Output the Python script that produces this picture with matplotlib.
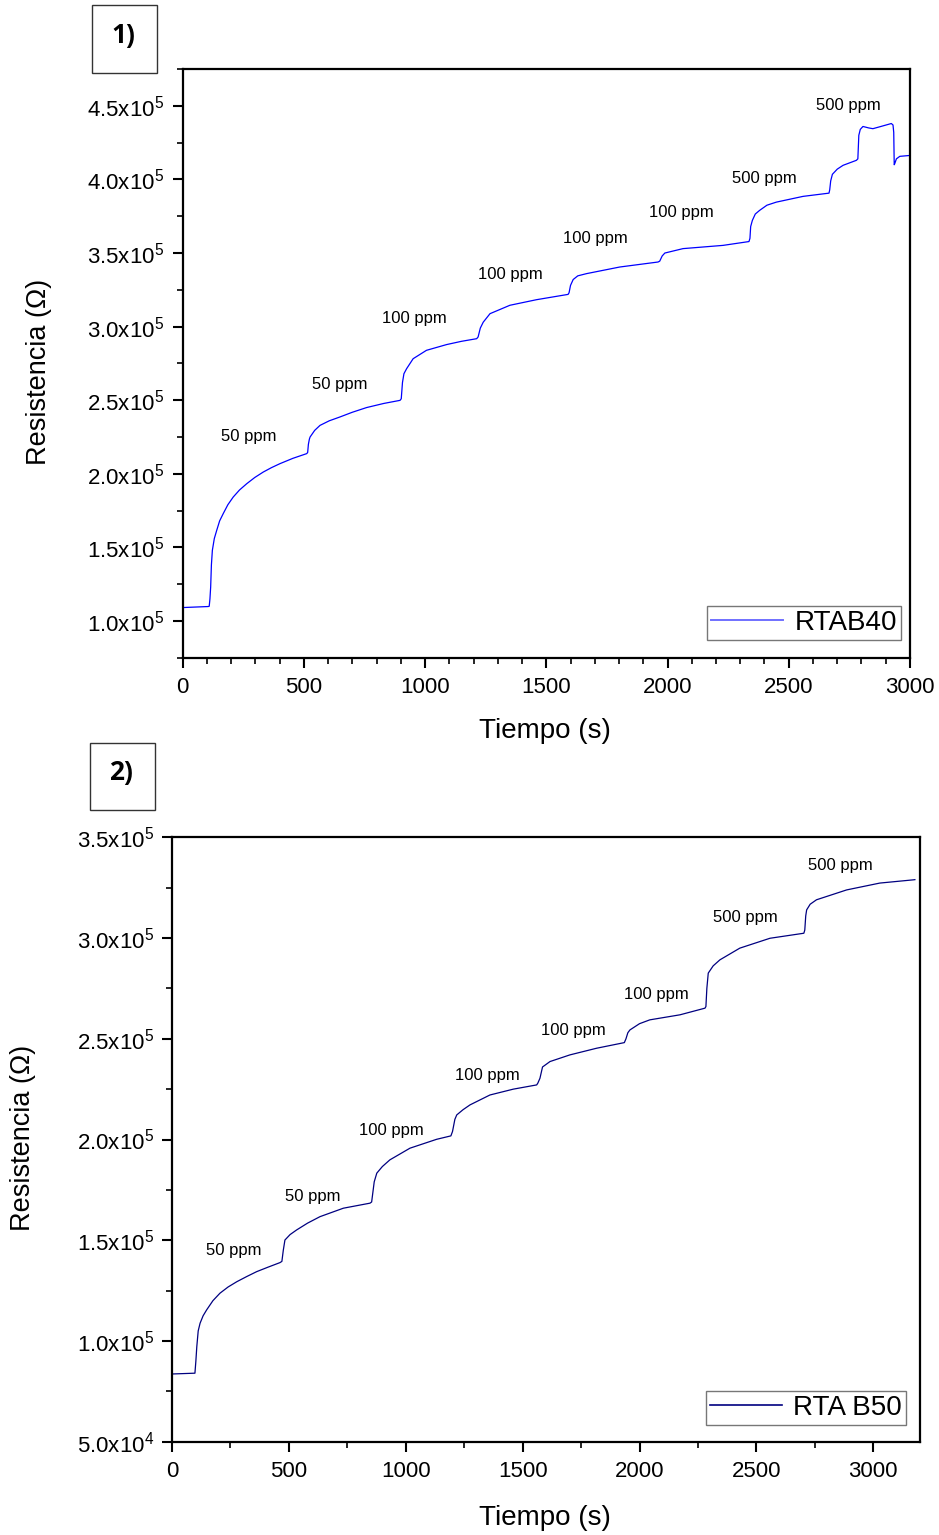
import matplotlib
matplotlib.use("Agg")
import matplotlib.pyplot as plt
from matplotlib.patches import Rectangle
from matplotlib.ticker import FixedLocator, MultipleLocator, FuncFormatter
import numpy as np

plt.rcParams['font.family'] = ['Liberation Sans', 'DejaVu Sans']
plt.rcParams['mathtext.fontset'] = 'custom'
plt.rcParams['mathtext.rm'] = 'Liberation Sans'
plt.rcParams['mathtext.it'] = 'Liberation Sans'

# ---- Sample RTAB40: time (s) and resistance (x1e5 ohm) ----
t_rtab40 = [0, 106, 110, 113, 116, 119, 123, 131, 141, 153, 168, 187, 209, 235, 265, 298, 333, 367, 402, 455, 512,
            516, 519, 523, 526, 545, 567, 605, 649, 700, 759, 830, 897,
            902, 907, 913, 924, 951, 1006, 1089, 1150, 1213,
            1219, 1228, 1240, 1268, 1350, 1460, 1590,
            1594, 1600, 1611, 1630, 1666, 1803, 1961,
            1968, 1978, 1989, 2064, 2229, 2336,
            2340, 2343, 2350, 2362, 2380, 2410, 2449, 2559, 2666,
            2669, 2673, 2680, 2700, 2724, 2779,
            2785, 2789, 2795, 2806, 2830, 2847, 2880, 2923, 2930,
            2933, 2935, 2937, 2944, 2958, 2999]
r_rtab40 = [1.091, 1.098, 1.100, 1.15, 1.231, 1.38, 1.48, 1.56, 1.616, 1.68, 1.730, 1.79, 1.842, 1.89, 1.933, 1.975, 2.012, 2.042, 2.069, 2.105, 2.137,
            2.145, 2.20, 2.235, 2.25, 2.295, 2.329, 2.36, 2.386, 2.418, 2.450, 2.478, 2.499,
            2.51, 2.62, 2.68, 2.714, 2.782, 2.839, 2.878, 2.90, 2.918,
            2.93, 2.99, 3.03, 3.088, 3.145, 3.183, 3.219,
            3.23, 3.28, 3.32, 3.345, 3.360, 3.405, 3.439,
            3.445, 3.48, 3.50, 3.530, 3.552, 3.578,
            3.60, 3.68, 3.722, 3.765, 3.790, 3.825, 3.846, 3.885, 3.907,
            3.93, 3.99, 4.035, 4.07, 4.096, 4.13,
            4.14, 4.30, 4.34, 4.36, 4.35, 4.345, 4.36, 4.38, 4.37,
            4.32, 4.10, 4.107, 4.14, 4.157, 4.163]

# ---- Sample RTA B50 ----
t_rtab50 = [0, 98, 102, 106, 112, 120, 133, 148, 175, 205, 240, 277, 320, 362, 410, 462,
            470, 476, 483, 505, 533, 580, 633, 733, 847,
            854, 865, 876, 900, 932, 1018, 1132, 1193,
            1200, 1210, 1218, 1245, 1275, 1360, 1460, 1560,
            1565, 1574, 1585, 1617, 1702, 1816, 1935,
            1942, 1950, 1959, 2000, 2044, 2173, 2280,
            2284, 2288, 2294, 2315, 2344, 2429, 2558, 2703,
            2707, 2711, 2715, 2730, 2757, 2886, 3028, 3171, 3178]
r_rtab50 = [0.836, 0.840, 0.90, 0.972, 1.05, 1.088, 1.125, 1.154, 1.20, 1.237, 1.268, 1.294, 1.320, 1.344, 1.366, 1.389,
            1.395, 1.45, 1.501, 1.528, 1.551, 1.585, 1.617, 1.659, 1.684,
            1.69, 1.79, 1.833, 1.866, 1.899, 1.957, 2.001, 2.018,
            2.04, 2.10, 2.122, 2.148, 2.172, 2.221, 2.25, 2.271,
            2.28, 2.304, 2.36, 2.387, 2.42, 2.453, 2.481,
            2.50, 2.53, 2.544, 2.575, 2.594, 2.619, 2.652,
            2.66, 2.75, 2.826, 2.862, 2.892, 2.950, 2.999, 3.024,
            3.04, 3.11, 3.140, 3.168, 3.190, 3.239, 3.273, 3.289, 3.29]

# ---- Gas concentration labels (text, time, resistance x1e5) ----
conc_labels = ["50 ppm", "50 ppm", "100 ppm", "100 ppm", "100 ppm", "100 ppm", "500 ppm", "500 ppm"]
lab_t_rtab40 = [274, 649, 958, 1350, 1704, 2059, 2401, 2747]
lab_r_rtab40 = [2.254, 2.607, 3.055, 3.354, 3.598, 3.775, 4.006, 4.50]
lab_t_rtab50 = [265, 603, 937, 1347, 1719, 2070, 2451, 2861]
lab_r_rtab50 = [1.447, 1.715, 2.047, 2.316, 2.539, 2.718, 3.10, 3.358]

yticks_top = [1.0, 1.5, 2.0, 2.5, 3.0, 3.5, 4.0, 4.5]
yticks_bot = [0.5, 1.0, 1.5, 2.0, 2.5, 3.0, 3.5]

SCALE = 1e5


def sci_label(v, pos=None):
    if v == 0:
        return "0"
    exp = int(np.floor(np.log10(abs(v)) + 1e-9))
    mant = v / 10 ** exp
    return f"{mant:.1f}x10$^{{{exp}}}$"


def style_axes(ax, xmax, xmajor, xminor, yticks, ylim):
    ax.set_xlim(0, xmax)
    ax.set_ylim(*ylim)
    ax.xaxis.set_major_locator(MultipleLocator(xmajor))
    ax.xaxis.set_minor_locator(MultipleLocator(xminor))
    yt = [v * SCALE for v in yticks]
    ax.yaxis.set_major_locator(FixedLocator(yt))
    step = (yt[1] - yt[0]) / 2
    ax.yaxis.set_minor_locator(MultipleLocator(step))
    ax.yaxis.set_major_formatter(FuncFormatter(sci_label))
    for s in ax.spines.values():
        s.set_linewidth(1.6)
    ax.tick_params(axis='both', which='major', direction='out', length=7, width=1.5,
                   labelsize=16)
    ax.tick_params(axis='x', which='major', pad=7)
    ax.tick_params(axis='y', which='major', pad=6)
    ax.tick_params(axis='both', which='minor', direction='out', length=4, width=1.2)
    ax.tick_params(top=False, right=False)


fig = plt.figure(figsize=(9.39, 15.35), dpi=100)

# ---------- Panel 1 ----------
ax1 = fig.add_axes([0.1944, 0.5715, 0.7747, 0.3835])
ax1.plot(t_rtab40, [r * SCALE for r in r_rtab40], color='#0000ff', lw=0.9, label='RTAB40')
style_axes(ax1, 3000, 500, 100, yticks_top, (0.75 * SCALE, 4.75 * SCALE))
for txt, tx, ry in zip(conc_labels, lab_t_rtab40, lab_r_rtab40):
    ax1.text(tx, ry * SCALE, txt, ha='center', va='center', fontsize=12)
ax1.set_xlabel('Tiempo (s)', fontsize=20)
ax1.set_ylabel('Resistencia (Ω)', fontsize=19.5)
ax1.xaxis.set_label_coords(0.498, -0.1024)
ax1.yaxis.set_label_coords(-0.1794, 0.485)
leg1 = ax1.legend(loc='lower right', bbox_to_anchor=(0.9876, 0.030), borderaxespad=0,
                  fontsize=20, frameon=True, fancybox=False, handlelength=2.6,
                  borderpad=0.15, handletextpad=0.4)
leg1.get_frame().set_edgecolor('#555555')
leg1.get_frame().set_linewidth(1.0)
leg1.get_lines()[0].set_color('#7070ff')
leg1.get_lines()[0].set_linewidth(1.4)

# ---------- Panel 2 ----------
ax2 = fig.add_axes([0.1832, 0.0608, 0.7966, 0.3937])
ax2.plot(t_rtab50, [r * SCALE for r in r_rtab50], color='#000080', lw=0.9, label='RTA B50')
style_axes(ax2, 3200, 500, 250, yticks_bot, (0.5 * SCALE, 3.5 * SCALE))
for txt, tx, ry in zip(conc_labels, lab_t_rtab50, lab_r_rtab50):
    ax2.text(tx, ry * SCALE, txt, ha='center', va='center', fontsize=12)
ax2.set_xlabel('Tiempo (s)', fontsize=20)
ax2.set_ylabel('Resistencia (Ω)', fontsize=19.5)
ax2.xaxis.set_label_coords(0.4987, -0.1047)
ax2.yaxis.set_label_coords(-0.1818, 0.502)
leg2 = ax2.legend(loc='lower right', bbox_to_anchor=(0.9813, 0.0276), borderaxespad=0,
                  fontsize=20, frameon=True, fancybox=False, handlelength=2.6,
                  borderpad=0.15, handletextpad=0.4)
leg2.get_frame().set_edgecolor('#555555')
leg2.get_frame().set_linewidth(1.0)
leg2.get_lines()[0].set_linewidth(1.2)

# ---------- Panel tags ----------
for (x0, y0, w, h, tag, tx, ty) in [
        (0.098, 0.9524, 0.0692, 0.0443, "1)", 0.131, 0.977),
        (0.0958, 0.4723, 0.0692, 0.0436, "2)", 0.1289, 0.497)]:
    fig.patches.append(Rectangle((x0, y0), w, h, transform=fig.transFigure,
                                 fill=False, edgecolor='#333333', linewidth=1.0))
    fig.text(tx, ty, tag, ha='center', va='center', fontsize=19, fontweight='bold',
             family=['Open Sans', 'DejaVu Sans'])

fig.savefig('out.png', dpi=100)
